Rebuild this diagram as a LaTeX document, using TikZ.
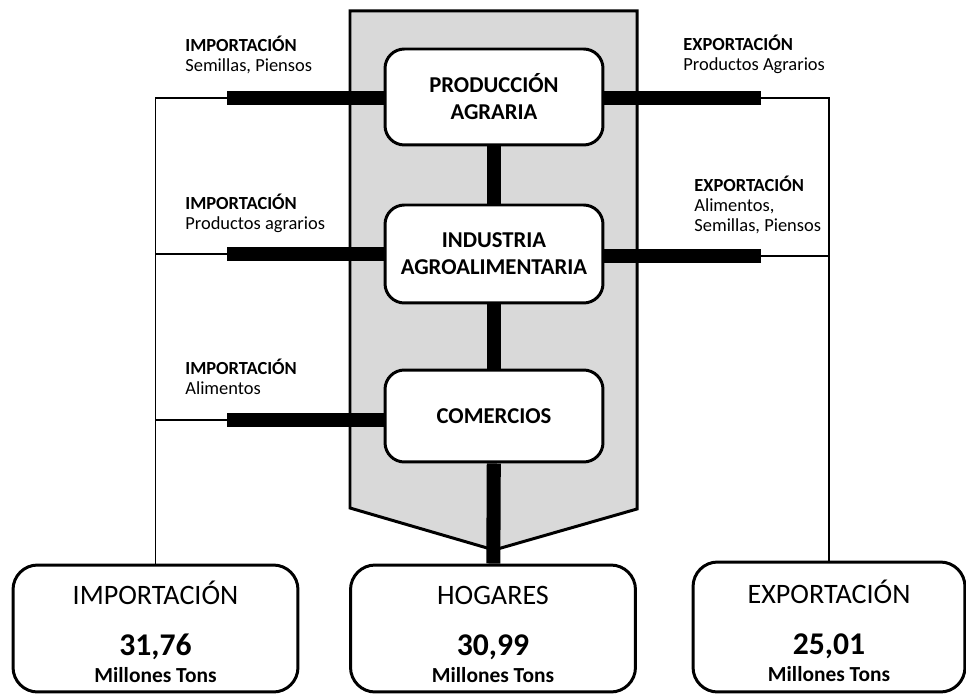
\documentclass[tikz,border=0pt]{standalone}
\usepackage{fontspec}
\setmainfont{Carlito}
\usetikzlibrary{positioning}
\usetikzlibrary{backgrounds}
\definecolor{panel}{RGB}{217,217,217}
\newcommand{\numfont}{\fontsize{18}{20}\selectfont\bfseries}
\newcommand{\unitfont}{\fontsize{12.2}{14}\selectfont\bfseries}
\newcommand{\totaltext}[2]{\raisebox{0pt}[\dimexpr\height+4pt\relax]{#1\vphantom{Ó}}\\{\numfont #2}\\[-13.5pt]{\unitfont Millones Tons}}

\begin{document}
\begin{tikzpicture}
		[x=0.02cm, y=-0.02cm,
		 stage/.style={draw=black, line width=1.7pt, fill=white, rounded corners=11pt, minimum width=4.36cm, align=center, font=\fontsize{12.9}{15.3}\selectfont\bfseries},
		 total/.style={draw=black, line width=1.7pt, fill=white, rounded corners=14pt, minimum height=2.54cm, align=center, font=\fontsize{16}{29}\selectfont},
		 flow/.style={line width=8pt},
		 link/.style={line width=0.6pt},
		 tag/.style={anchor=north west, align=left, inner sep=0pt, font=\fontsize{10.5}{11.3}\selectfont}]
		\useasboundingbox (0,0) rectangle (966,695);

		% chain
		\node[stage, minimum height=1.92cm] (prod) at (494,97) {PRODUCCIÓN\\AGRARIA};
		\node[stage, minimum height=1.96cm] (ind) at (494,254) {INDUSTRIA\\AGROALIMENTARIA};
		\node[stage, minimum height=1.84cm] (com) at (494,416) {COMERCIOS};

		% totals
		\node[total, minimum width=5.7cm] (imp) at (155.5,628.5) {\totaltext{IMPORTACIÓN}{31,76}};
		\node[total, minimum width=5.7cm] (hog) at (493,628.5) {\totaltext{HOGARES}{30,99}};
		\node[total, minimum width=5.44cm, minimum height=2.6cm] (exp) at (829,627) {\totaltext{EXPORTACIÓN}{25,01}};

		% labels
		\node[tag] (inTagA) at (185,36) {\textbf{IMPORTACIÓN}\\Semillas, Piensos};
		\node[tag] (inTagB) at (185,194) {\textbf{IMPORTACIÓN}\\Productos agrarios};
		\node[tag] (inTagC) at (185,359) {\textbf{IMPORTACIÓN}\\Alimentos};
		\node[tag] (outTagA) at (683,35) {\textbf{EXPORTACIÓN}\\Productos Agrarios};
		\node[tag] (outTagB) at (694,176) {\textbf{EXPORTACIÓN}\\Alimentos,\\Semillas, Piensos};

		\coordinate (inA) at (227,98);
		\coordinate (inB) at (227,254);
		\coordinate (inC) at (227,420);
		\coordinate (outA) at (761,98);
		\coordinate (outB) at (761,256);

		\begin{scope}[on background layer]
			\draw[line width=1.7pt, fill=panel] (350,11) -- (637,11) -- (637,509) -- (494,550) -- (350,508) -- cycle;
			\draw[flow] (prod) -- (ind);
			\draw[flow] (ind) -- (com);
			\draw[flow] (com) -- (hog);
			\draw[flow] (inA) -- (inA -| prod.west);
			\draw[flow] (inB) -- (inB -| ind.west);
			\draw[flow] (inC) -- (inC -| com.west);
			\draw[flow] (outA) -- (outA -| prod.east);
			\draw[flow] (outB) -- (outB -| ind.east);
		\end{scope}

		\draw[link] (inA) -| (imp.north);
		\draw[link] (inB) -- (inB -| imp.north);
		\draw[link] (inC) -- (inC -| imp.north);
		\draw[link] (outA) -| (exp.north);
		\draw[link] (outB) -- (outB -| exp.north);
	\end{tikzpicture}
\end{document}
